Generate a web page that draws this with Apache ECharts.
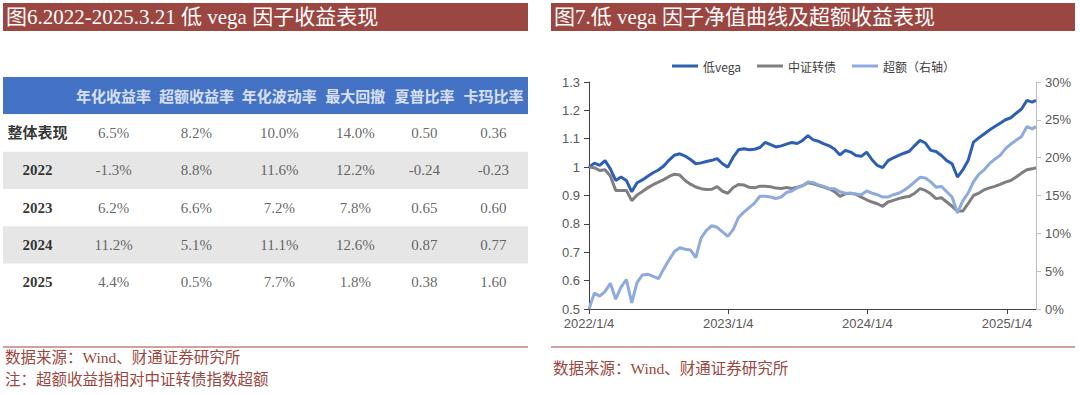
<!DOCTYPE html>
<html><head><meta charset="utf-8">
<script src="https://cdn.jsdelivr.net/npm/echarts@6/dist/echarts.min.js"></script>
<style>html,body{margin:0;padding:0;background:#fff}#c{width:1080px;height:395px}</style>
</head><body><div id="c"></div>
<script>
// ---------- Table (图6) ----------
const tableHeaders = ['年化收益率', '超额收益率', '年化波动率', '最大回撤', '夏普比率', '卡玛比率'];
const rowLabels = ['整体表现', '2022', '2023', '2024', '2025'];
const annReturn = [6.5, -1.3, 6.2, 11.2, 4.4];
const excessReturn = [8.2, 8.8, 6.6, 5.1, 0.5];
const annVol = [10.0, 11.6, 7.2, 11.1, 7.7];
const maxDrawdown = [14.0, 12.2, 7.8, 12.6, 1.8];
const sharpe = [0.50, -0.24, 0.65, 0.87, 0.38];
const calmar = [0.36, -0.23, 0.60, 0.77, 1.60];

// ---------- Line chart (图7) ----------
const dates = ['2022-01-04','2022-01-18','2022-02-01','2022-02-15','2022-03-01','2022-03-15','2022-03-29','2022-04-12','2022-04-26','2022-05-10','2022-05-24','2022-06-07','2022-06-21','2022-07-05','2022-07-19','2022-08-02','2022-08-16','2022-08-30','2022-09-13','2022-09-27','2022-10-11','2022-10-25','2022-11-08','2022-11-22','2022-12-06','2022-12-20',
'2023-01-03','2023-01-17','2023-01-31','2023-02-14','2023-02-28','2023-03-14','2023-03-28','2023-04-11','2023-04-25','2023-05-09','2023-05-23','2023-06-06','2023-06-20','2023-07-04','2023-07-18','2023-08-01','2023-08-15','2023-08-29','2023-09-12','2023-09-26','2023-10-10','2023-10-24','2023-11-07','2023-11-21','2023-12-05','2023-12-19',
'2024-01-02','2024-01-16','2024-01-30','2024-02-13','2024-02-27','2024-03-12','2024-03-26','2024-04-09','2024-04-23','2024-05-07','2024-05-21','2024-06-04','2024-06-18','2024-07-02','2024-07-16','2024-07-30','2024-08-13','2024-08-27','2024-09-10','2024-09-24','2024-10-08','2024-10-22','2024-11-05','2024-11-19','2024-12-03','2024-12-17','2024-12-31',
'2025-01-14','2025-01-28','2025-02-11','2025-02-25','2025-03-11','2025-03-21'];
const lowVega = [1.000,1.014,1.006,1.023,0.994,0.953,0.965,0.953,0.913,0.945,0.955,0.968,0.980,0.990,1.004,1.025,1.042,1.047,1.039,1.027,1.012,1.015,1.020,1.024,1.030,1.012,
1.000,1.035,1.061,1.065,1.061,1.063,1.069,1.087,1.079,1.071,1.075,1.081,1.087,1.083,1.094,1.111,1.096,1.091,1.082,1.075,1.063,1.043,1.059,1.053,1.041,1.038,
1.053,1.026,1.006,0.998,1.023,1.033,1.041,1.049,1.056,1.076,1.094,1.085,1.059,1.055,1.041,1.023,1.012,0.965,0.990,1.023,1.088,1.103,1.117,1.131,1.143,
1.155,1.167,1.174,1.190,1.205,1.235,1.229,1.235];
const cbIndex = [1.000,0.998,0.988,0.991,0.969,0.918,0.918,0.918,0.882,0.902,0.914,0.927,0.938,0.947,0.956,0.967,0.975,0.972,0.953,0.940,0.930,0.924,0.921,0.922,0.931,0.915,
0.908,0.928,0.939,0.937,0.929,0.927,0.933,0.933,0.931,0.926,0.925,0.928,0.925,0.929,0.935,0.945,0.941,0.935,0.930,0.923,0.914,0.897,0.906,0.908,0.904,0.894,
0.885,0.877,0.871,0.862,0.877,0.883,0.889,0.894,0.897,0.908,0.924,0.918,0.906,0.889,0.892,0.877,0.862,0.845,0.845,0.871,0.900,0.908,0.920,0.927,0.932,
0.939,0.947,0.953,0.965,0.979,0.991,0.994,0.998];
const excessPct = [0.0,2.1,1.7,2.3,3.4,1.3,2.9,3.9,0.8,3.5,4.5,4.6,4.3,4.0,5.3,6.5,7.6,8.1,7.9,7.8,6.8,9.4,10.4,11.0,10.8,10.2,
9.6,10.5,12.1,12.8,13.4,14.0,14.9,14.9,14.8,14.6,14.8,15.4,15.6,16.0,16.3,16.8,16.7,16.4,16.2,15.9,15.9,15.5,15.3,15.3,15.2,15.1,
15.6,15.3,15.1,14.8,14.8,15.1,15.3,15.7,16.2,16.8,17.4,17.3,16.8,16.1,16.2,15.5,14.8,12.7,14.3,15.3,16.8,17.8,18.4,19.2,19.8,
20.3,21.2,21.8,22.3,22.8,24.1,23.8,24.1];
const xTickDates = ['2022-01-04', '2023-01-04', '2024-01-04', '2025-01-04'];
const seriesNames = ['低vega', '中证转债', '超额（右轴）'];

// ---------- helpers ----------
function ts(s) { const p = s.split('-').map(Number); return new Date(p[0], p[1] - 1, p[2]).getTime(); }
function fmtPct(v) { return v.toFixed(1) + '%'; }
function fmt2(v) { return v.toFixed(2); }

const SERIF = "'Liberation Serif','Times New Roman','Noto Sans CJK SC',serif";
const CJK = "'Noto Sans CJK SC','Liberation Serif',sans-serif";
const BROWN = '#9B4640';

// Column layout in "character units" derived from text lengths
const colUnits = [Math.max(...rowLabels.map(s => s.length)) + 1].concat(tableHeaders.map(h => h.length + 1));
const colCenters = [];
let acc = 0;
colUnits.forEach(u => { colCenters.push(acc + u / 2); acc += u; });
const totalUnits = acc;

const columns = [
  annReturn.map(fmtPct), excessReturn.map(fmtPct), annVol.map(fmtPct),
  maxDrawdown.map(fmtPct), sharpe.map(fmt2), calmar.map(fmt2)
];

const tableData = [];
tableHeaders.forEach((h, j) => tableData.push({
  name: h, value: [colCenters[j + 1], 0],
  label: { color: '#fff', fontWeight: 'bold', fontSize: 15, fontFamily: CJK }
}));
rowLabels.forEach((r, i) => {
  tableData.push({
    name: r, value: [colCenters[0], i + 1],
    label: { color: '#000', fontWeight: 'bold', fontSize: 15, fontFamily: SERIF }
  });
  columns.forEach((col, j) => tableData.push({
    name: col[i], value: [colCenters[j + 1], i + 1],
    label: { color: '#404040', fontSize: 15, fontFamily: SERIF }
  }));
});
const rowColors = ['#4472C4', '#FFFFFF', '#E7E6E6', '#FFFFFF', '#E7E6E6', '#FFFFFF'];

const chart = echarts.init(document.getElementById('c'), null, { renderer: 'svg' });
chart.setOption({
  animation: false,
  backgroundColor: '#fff',
  graphic: [
    { type: 'rect', shape: { x: 3, y: 3, width: 525, height: 28 }, style: { fill: BROWN } },
    { type: 'text', x: 6, y: 17, style: { text: '图6.2022-2025.3.21 低 vega 因子收益表现', fill: '#fff', font: '21px ' + SERIF, verticalAlign: 'middle' } },
    { type: 'rect', shape: { x: 551, y: 3, width: 524, height: 28 }, style: { fill: BROWN } },
    { type: 'text', x: 554, y: 17, style: { text: '图7.低 vega 因子净值曲线及超额收益表现', fill: '#fff', font: '21px ' + SERIF, verticalAlign: 'middle' } },
    { type: 'line', shape: { x1: 3, y1: 347, x2: 528, y2: 347 }, style: { stroke: BROWN, lineWidth: 1 } },
    { type: 'text', x: 5, y: 357, style: { text: '数据来源：Wind、财通证券研究所', fill: BROWN, font: '15.5px ' + SERIF, verticalAlign: 'middle' } },
    { type: 'text', x: 5, y: 379, style: { text: '注：超额收益指相对中证转债指数超额', fill: BROWN, font: '15.5px ' + SERIF, verticalAlign: 'middle' } },
    { type: 'line', shape: { x1: 551, y1: 347, x2: 1075, y2: 347 }, style: { stroke: BROWN, lineWidth: 1 } },
    { type: 'text', x: 553, y: 368, style: { text: '数据来源：Wind、财通证券研究所', fill: BROWN, font: '15.5px ' + SERIF, verticalAlign: 'middle' } }
  ],
  legend: {
    data: seriesNames.map(n => ({ name: n, icon: 'rect' })), left: 667, top: 55, itemWidth: 26, itemHeight: 3, itemGap: 16,
    textStyle: { fontSize: 12, color: '#404040', fontFamily: CJK, padding: [0, 0, 0, 0] }
  },
  grid: [
    { left: 3, right: 552, top: 77, height: 224 },
    { left: 589, right: 44, top: 82, bottom: 86 }
  ],
  xAxis: [
    { gridIndex: 0, type: 'value', min: 0, max: totalUnits, show: false },
    {
      gridIndex: 1, type: 'value', min: ts(dates[0]), max: ts(dates[dates.length - 1]),
      axisLine: { lineStyle: { color: '#404040', width: 1 } },
      axisTick: { show: true, length: 5, lineStyle: { color: '#404040' }, customValues: xTickDates.map(ts) },
      axisLabel: {
        customValues: xTickDates.map(ts), color: '#595959', fontSize: 13, fontFamily: "'Liberation Sans',sans-serif", margin: 8,
        formatter: v => { const d = new Date(v); return d.getFullYear() + '/' + (d.getMonth() + 1) + '/' + d.getDate(); }
      },
      splitLine: { show: false }
    }
  ],
  yAxis: [
    {
      gridIndex: 0, type: 'category', inverse: true, data: [''].concat(rowLabels),
      axisLine: { show: false }, axisTick: { show: false }, axisLabel: { show: false },
      splitLine: { show: false }, splitArea: { show: true, areaStyle: { color: rowColors } }
    },
    {
      gridIndex: 1, type: 'value', min: 0.5, max: 1.3, interval: 0.1, position: 'left',
      axisLine: { show: true, lineStyle: { color: '#404040' } },
      axisTick: { show: true, length: 5, lineStyle: { color: '#404040' } },
      axisLabel: { color: '#595959', fontSize: 13, fontFamily: "'Liberation Sans',sans-serif", margin: 9,
        formatter: v => String(Math.round(v * 10) / 10) },
      splitLine: { show: false }
    },
    {
      gridIndex: 1, type: 'value', min: 0, max: 30, interval: 5, position: 'right',
      axisLine: { show: true, lineStyle: { color: '#BFBFBF' } },
      axisTick: { show: true, length: 5, lineStyle: { color: '#BFBFBF' } },
      axisLabel: { color: '#595959', fontSize: 13, fontFamily: "'Liberation Sans',sans-serif", margin: 9, formatter: '{value}%' },
      splitLine: { show: false }
    }
  ],
  series: [
    {
      type: 'scatter', xAxisIndex: 0, yAxisIndex: 0, data: tableData, symbolSize: 1, silent: true,
      itemStyle: { color: 'rgba(0,0,0,0)' },
      label: { show: true, position: 'inside', formatter: '{b}' }
    },
    {
      name: seriesNames[0], type: 'line', xAxisIndex: 1, yAxisIndex: 1, showSymbol: false, symbol: 'none',
      data: dates.map((d, i) => [ts(d), lowVega[i]]), lineStyle: { color: '#2F5FB3', width: 3 }, itemStyle: { color: '#2F5FB3' }, z: 3
    },
    {
      name: seriesNames[1], type: 'line', xAxisIndex: 1, yAxisIndex: 1, showSymbol: false, symbol: 'none',
      data: dates.map((d, i) => [ts(d), cbIndex[i]]), lineStyle: { color: '#7F7F7F', width: 3 }, itemStyle: { color: '#7F7F7F' }, z: 3
    },
    {
      name: seriesNames[2], type: 'line', xAxisIndex: 1, yAxisIndex: 2, showSymbol: false, symbol: 'none',
      data: dates.map((d, i) => [ts(d), excessPct[i]]), lineStyle: { color: '#8FAADC', width: 3 }, itemStyle: { color: '#8FAADC' }, z: 4
    }
  ]
});
</script>
</body></html>
